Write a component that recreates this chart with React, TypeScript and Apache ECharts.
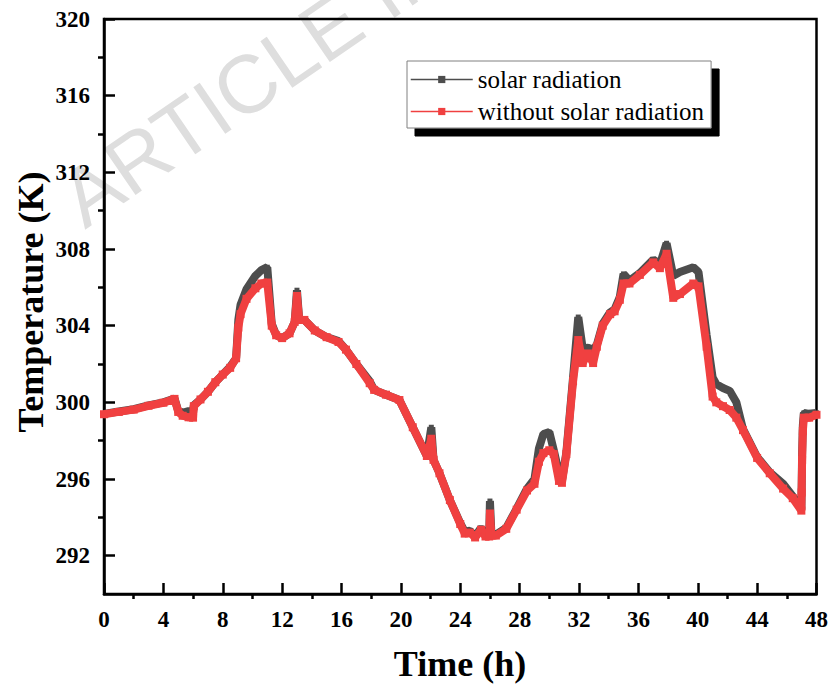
import React, { useEffect, useRef } from "react";
import * as echarts from "echarts";

const TIME = [0, 1, 2, 3, 4, 4.75, 5.0, 5.3, 5.7, 6.0, 6.05, 6.5, 7.0, 7.5, 8.0, 8.5, 8.9, 9.05, 9.2, 9.6, 10.2, 10.6, 11.0, 11.3, 11.6, 12.0, 12.5, 12.85, 13.0, 13.15, 13.5, 14.2, 15.0, 15.8, 16.3, 17.0, 17.9, 18.2, 19.0, 19.9, 20.8, 21.75, 22.05, 22.2, 22.6, 23.3, 24.0, 24.3, 24.65, 25.0, 25.4, 25.7, 25.95, 26.0, 26.1, 26.4, 27.1, 27.8, 28.5, 29.0, 29.3, 29.6, 30.0, 30.3, 30.65, 30.85, 31.15, 31.6, 31.95, 32.25, 32.6, 32.95, 33.2, 33.6, 34.1, 34.4, 34.75, 35.0, 35.4, 36.1, 37.0, 37.45, 37.9, 38.35, 38.8, 39.7, 40.05, 40.6, 41.0, 41.25, 41.7, 42.15, 42.6, 43.05, 44.0, 44.85, 45.75, 46.4, 46.98, 47.0, 47.03, 47.08, 47.15, 47.5, 48];

const T_SOLAR = [299.4, 299.52, 299.64, 299.84, 300.0, 300.2, 299.55, 299.45, 299.55, 299.45, 299.85, 300.15, 300.55, 301.05, 301.45, 301.85, 302.3, 304.3, 305.1, 305.9, 306.6, 306.9, 307.05, 304.1, 303.5, 303.35, 303.6, 304.2, 305.85, 304.3, 304.3, 303.75, 303.4, 303.2, 302.75, 302.0, 301.1, 300.65, 300.4, 300.12, 298.7, 297.2, 298.7, 297.0, 296.3, 294.9, 293.7, 293.25, 293.3, 293.0, 293.45, 293.05, 293.05, 294.85, 293.1, 293.1, 293.45, 294.45, 295.5, 296.0, 297.6, 298.35, 298.45, 297.5, 296.3, 295.9, 297.4, 301.3, 304.45, 302.8, 302.85, 302.75, 303.0, 304.1, 304.7, 304.85, 305.5, 306.7, 306.35, 306.75, 307.45, 307.2, 308.3, 306.6, 306.8, 307.05, 306.8, 303.5, 301.3, 300.95, 300.75, 300.6, 300.0, 298.6, 297.15, 296.35, 295.75, 295.1, 294.4, 295.5, 297.3, 298.8, 299.45, 299.4, 299.45];

const T_NO_SOLAR = [299.38, 299.5, 299.62, 299.82, 299.98, 300.18, 299.5, 299.3, 299.22, 299.2, 299.8, 300.15, 300.55, 301.05, 301.45, 301.8, 302.3, 303.9, 304.6, 305.4, 305.95, 306.2, 306.25, 304.0, 303.5, 303.35, 303.6, 304.2, 305.55, 304.3, 304.3, 303.75, 303.4, 303.15, 302.75, 302.0, 301.0, 300.65, 300.4, 300.12, 298.7, 297.2, 298.1, 297.0, 296.3, 294.9, 293.65, 293.15, 293.2, 292.95, 293.35, 293.0, 293.0, 294.2, 293.05, 293.05, 293.4, 294.4, 295.4, 295.75, 296.9, 297.35, 297.5, 297.3, 295.9, 295.8, 297.3, 301.1, 303.25, 302.05, 302.55, 302.05, 302.9, 304.0, 304.6, 304.75, 305.35, 306.2, 306.2, 306.65, 307.3, 307.0, 307.75, 305.45, 305.65, 306.2, 306.05, 302.9, 300.3, 300.0, 299.8, 299.6, 299.2, 298.55, 297.1, 296.3, 295.5, 295.0, 294.35, 295.3, 297.0, 298.5, 299.2, 299.2, 299.35];

const SERIES_NAMES = ["solar radiation", "without solar radiation"];
const X_MIN = 0, X_MAX = 48, X_STEP = 4;
const Y_MIN = 290, Y_MAX = 320, Y_LABEL_MIN = 292, Y_STEP = 4;

const SERIF = "Liberation Serif";

export default function App() {
  const ref = useRef<HTMLDivElement>(null);
  useEffect(() => {
    document.body.style.margin = "0";
    if (!ref.current) return;
    const chart = echarts.init(ref.current, null, { renderer: "svg" });
    const gridTop = 19, gridBottom = 92;
    const plotH = 686 - gridTop - gridBottom;
    const grid2Bottom = gridBottom + ((Y_LABEL_MIN - Y_MIN) / (Y_MAX - Y_MIN)) * plotH;
    const solarData = TIME.map((t, i) => [t, T_SOLAR[i]]);
    const noSolarData = TIME.map((t, i) => [t, T_NO_SOLAR[i]]);
    const legendText = { fontFamily: SERIF, fontSize: 25, color: "#000" };
    chart.setOption({
      animation: false,
      backgroundColor: "#ffffff",
      textStyle: { fontFamily: SERIF },
      grid: [
        { left: 104, right: 14, top: gridTop, bottom: gridBottom, show: true, borderColor: "#000", borderWidth: 2.5, backgroundColor: "transparent" },
        { left: 104, right: 14, top: gridTop, bottom: grid2Bottom, show: false },
      ],
      xAxis: [
        {
          type: "value", gridIndex: 0, min: X_MIN, max: X_MAX, interval: X_STEP,
          axisLine: { show: true, onZero: false, lineStyle: { color: "#000", width: 2.5 } },
          axisTick: { show: true, inside: true, length: 11, lineStyle: { color: "#000", width: 2.5 } },
          minorTick: { show: true, splitNumber: 2, length: -5, lineStyle: { color: "#000", width: 2.5 } },
          axisLabel: { show: true, margin: 14, color: "#000", fontFamily: SERIF, fontWeight: "bold", fontSize: 23 },
          splitLine: { show: false },
        },
        { type: "value", gridIndex: 1, min: X_MIN, max: X_MAX, show: false },
      ],
      yAxis: [
        {
          type: "value", gridIndex: 0, min: Y_MIN, max: Y_MAX,
          axisLine: { show: true, onZero: false, lineStyle: { color: "#000", width: 2.5 } },
          axisTick: { show: false },
          axisLabel: { show: false },
          splitLine: { show: false },
        },
        {
          type: "value", gridIndex: 1, min: Y_LABEL_MIN, max: Y_MAX, interval: Y_STEP,
          axisLine: { show: false },
          axisTick: { show: true, inside: true, length: 11, lineStyle: { color: "#000", width: 2.5 } },
          minorTick: { show: true, splitNumber: 2, length: -6, lineStyle: { color: "#000", width: 2.5 } },
          axisLabel: { show: true, margin: 14, color: "#000", fontFamily: SERIF, fontWeight: "bold", fontSize: 23 },
          splitLine: { show: false },
        },
      ],
      legend: {
        show: true,
        orient: "vertical",
        left: 407,
        top: 61,
        backgroundColor: "#ffffff",
        borderColor: "#808080",
        borderWidth: 1,
        shadowColor: "#000",
        shadowBlur: 0,
        shadowOffsetX: 8,
        shadowOffsetY: 8,
        padding: [6, 7, 4, 3],
        itemGap: 7,
        itemWidth: 62,
        itemHeight: 9,
        textStyle: legendText,
        lineStyle: { width: 1.5 },
        data: SERIES_NAMES.map((n) => ({ name: n, textStyle: legendText })),
      },
      graphic: [
        {
          type: "text", x: 92, y: 240, rotation: 0.6, silent: true, z: -1,
          style: { text: "ARTICLE IN PRESS", fontFamily: "Liberation Sans", fontSize: 82, fill: "#dedede", align: "left", verticalAlign: "bottom" },
        },
        {
          type: "text", x: 31, y: 302, rotation: Math.PI / 2, silent: true,
          style: { text: "Temperature (K)", fontFamily: SERIF, fontWeight: "bold", fontSize: 36, fill: "#000", align: "center", verticalAlign: "middle" },
        },
        {
          type: "text", x: 460, y: 664, silent: true,
          style: { text: "Time (h)", fontFamily: SERIF, fontWeight: "bold", fontSize: 36, fill: "#000", align: "center", verticalAlign: "middle" },
        },
      ],
      series: [
        {
          name: SERIES_NAMES[0], type: "line", xAxisIndex: 0, yAxisIndex: 0,
          data: solarData, color: "#4d4d4d",
          lineStyle: { width: 8, color: "#4d4d4d", join: "bevel" },
          symbol: "rect", symbolSize: 5, showSymbol: true, showAllSymbol: true,
          itemStyle: { color: "#4d4d4d" }, z: 2,
        },
        {
          name: SERIES_NAMES[1], type: "line", xAxisIndex: 0, yAxisIndex: 0,
          data: noSolarData, color: "#f04040",
          lineStyle: { width: 8, color: "#f04040", join: "bevel" },
          symbol: "rect", symbolSize: 8, showSymbol: true, showAllSymbol: true,
          itemStyle: { color: "#f04040" }, z: 3,
        },
      ],
    });
    return () => chart.dispose();
  }, []);
  return <div ref={ref} style={{ width: 831, height: 686 }} />;
}
